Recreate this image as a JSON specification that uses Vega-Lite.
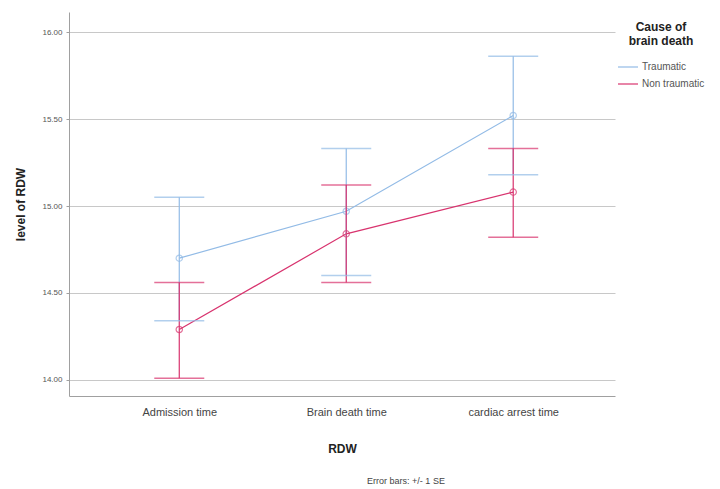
{
  "$schema": "https://vega.github.io/schema/vega-lite/v6.json",
  "autosize": "none",
  "width": 546,
  "height": 384,
  "padding": {"left": 69, "top": 12, "right": 105, "bottom": 93},
  "background": "white",
  "config": {
    "font": "Liberation Sans",
    "view": {"stroke": null},
    "axis": {"domainColor": "#a0a0a0", "gridColor": "#c8c8c8", "tickColor": "#a0a0a0"}
  },
  "title": {
    "text": "Error bars: +/- 1 SE",
    "orient": "bottom",
    "anchor": "middle",
    "fontSize": 9,
    "fontWeight": "normal",
    "color": "#444444",
    "offset": 23,
    "dx": 64
  },
  "data": {
    "values": [
      {"time": "Admission time", "cause": "Traumatic", "mean": 14.70, "lo": 14.34, "hi": 15.05},
      {"time": "Brain death time", "cause": "Traumatic", "mean": 14.97, "lo": 14.60, "hi": 15.33},
      {"time": "cardiac arrest time", "cause": "Traumatic", "mean": 15.52, "lo": 15.18, "hi": 15.86},
      {"time": "Admission time", "cause": "Non traumatic", "mean": 14.29, "lo": 14.01, "hi": 14.56},
      {"time": "Brain death time", "cause": "Non traumatic", "mean": 14.84, "lo": 14.56, "hi": 15.12},
      {"time": "cardiac arrest time", "cause": "Non traumatic", "mean": 15.08, "lo": 14.82, "hi": 15.33}
    ]
  },
  "encoding": {
    "x": {
      "field": "time",
      "type": "nominal",
      "sort": ["Admission time", "Brain death time", "cardiac arrest time"],
      "scale": {"type": "point", "padding": 0.635, "align": 0.52},
      "axis": {
        "title": "RDW",
        "titleFontSize": 12,
        "titleFontWeight": "bold",
        "titleColor": "#222222",
        "titlePadding": 26,
        "labelAngle": 0,
        "labelFontSize": 11,
        "labelColor": "#444444",
        "labelPadding": 10,
        "ticks": false,
        "grid": false
      }
    },
    "color": {
      "field": "cause",
      "type": "nominal",
      "sort": ["Traumatic", "Non traumatic"],
      "scale": {"domain": ["Traumatic", "Non traumatic"], "range": ["#92bbe6", "#d8336e"]},
      "legend": null
    }
  },
  "layer": [
    {
      "mark": {"type": "line", "strokeWidth": 1.2},
      "encoding": {
        "y": {
          "field": "mean",
          "type": "quantitative",
          "scale": {"domain": [13.908, 16.115], "nice": false, "zero": false},
          "axis": {
            "title": "level of RDW",
            "titleFontSize": 12,
            "titleFontWeight": "bold",
            "titleColor": "#222222",
            "titlePadding": 14,
            "values": [14, 14.5, 15, 15.5, 16],
            "format": ".2f",
            "labelFontSize": 8,
            "labelColor": "#555555",
            "tickSize": 3,
            "labelPadding": 4,
            "grid": true
          }
        },
        "color": {
          "field": "cause",
          "type": "nominal",
          "legend": {
            "title": ["Cause of", "brain death"],
            "titleFontSize": 12,
            "titleFontWeight": "bold",
            "titleColor": "#222222",
            "titleAlign": "center",
            "titleAnchor": "middle",
            "titlePadding": 8,
            "orient": "none",
            "legendX": 548,
            "legendY": 10,
            "symbolType": "stroke",
            "symbolSize": 400,
            "symbolStrokeWidth": 1.2,
            "labelFontSize": 10,
            "labelColor": "#555555",
            "labelOffset": 3,
            "rowPadding": 1
          }
        }
      }
    },
    {
      "mark": {"type": "point", "filled": false, "size": 40, "strokeWidth": 1.2},
      "encoding": {"y": {"field": "mean", "type": "quantitative"}}
    },
    {
      "mark": {"type": "rule", "strokeWidth": 1.2},
      "encoding": {
        "y": {"field": "lo", "type": "quantitative"},
        "y2": {"field": "hi"}
      }
    },
    {
      "mark": {"type": "tick", "size": 50, "thickness": 1.5},
      "encoding": {"y": {"field": "lo", "type": "quantitative"}}
    },
    {
      "mark": {"type": "tick", "size": 50, "thickness": 1.5},
      "encoding": {"y": {"field": "hi", "type": "quantitative"}}
    }
  ]
}
